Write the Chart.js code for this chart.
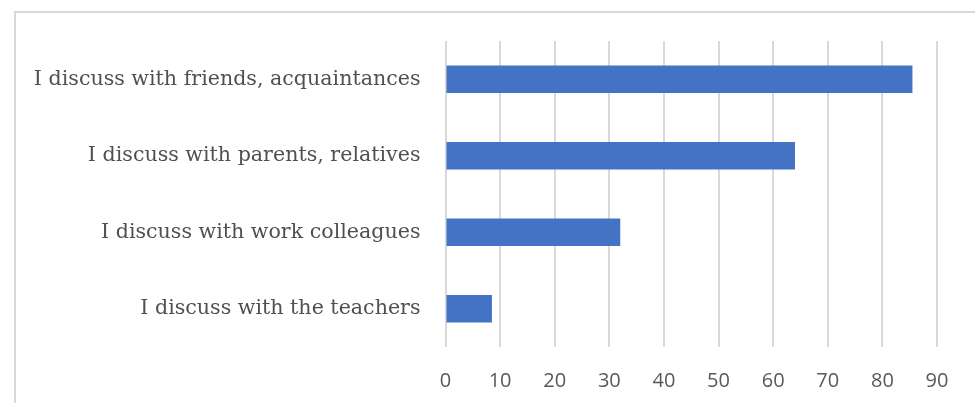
<!DOCTYPE html>
<html>
<head>
<meta charset="utf-8">
<script src="https://cdn.jsdelivr.net/npm/chart.js@4"></script>
<style>
  html, body { margin: 0; padding: 0; background: #fff; overflow: hidden; }
  #wrap { position: relative; width: 975px; height: 403px; }
  #frame { position: absolute; left: 14px; top: 11px; width: 1000px; height: 500px;
           border: 2px solid #d9d9d9; box-sizing: border-box; }
  #myChart { position: absolute; left: 0; top: 0; }
</style>
</head>
<body>
<div id="wrap">
  <div id="frame"></div>
  <canvas id="myChart" width="975" height="403"></canvas>
</div>
<script>
var categories = [
  "I discuss with friends, acquaintances",
  "I discuss with parents, relatives",
  "I discuss with work colleagues",
  "I discuss with the teachers"
];
var values = [85.5, 64, 32, 8.5];
var tickValues = [0, 10, 20, 30, 40, 50, 60, 70, 80, 90];

new Chart("myChart", {
  type: "bar",
  data: {
    labels: categories,
    datasets: [{
      data: values,
      backgroundColor: "#4472c4",
      borderWidth: 0,
      categoryPercentage: 1,
      barPercentage: 0.36
    }]
  },
  options: {
    indexAxis: "y",
    responsive: false,
    animation: false,
    layout: { padding: { top: 41, right: 38, left: 0, bottom: 0 } },
    plugins: { legend: { display: false }, tooltip: { enabled: false } },
    scales: {
      x: {
        min: 0,
        max: 90,
        afterBuildTicks: function (s) {
          s.ticks = tickValues.map(function (v) { return { value: v }; });
        },
        afterFit: function (s) { s.height = 56; },
        grid: { color: "#d9d9d9", lineWidth: 2, drawTicks: false },
        border: { display: false },
        ticks: {
          padding: 22,
          color: "#595959",
          font: { family: "'Open Sans'", size: 20 }
        }
      },
      y: {
        afterFit: function (s) { s.width = 445.5; },
        grid: { display: false, drawTicks: false },
        border: { display: false },
        ticks: {
          padding: 25,
          color: "#505050",
          font: { family: "'DejaVu Serif'", size: 20.6 }
        }
      }
    }
  }
});
</script>
</body>
</html>
